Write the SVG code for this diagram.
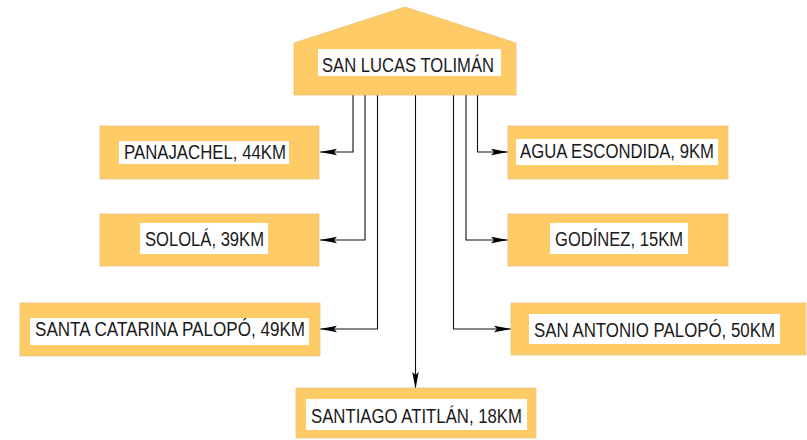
<svg xmlns="http://www.w3.org/2000/svg" width="807" height="440" viewBox="0 0 807 440">
<defs>
<style>
.box{fill:#FECB67;stroke:#E8C07A;stroke-width:0.8}
.lab{fill:#fff}
.t{font-family:"Liberation Sans",Arial,sans-serif;font-size:20px;fill:#1a1a1a}
.c{fill:none;stroke:#111;stroke-width:1.1}
</style>
<marker id="ah" markerUnits="userSpaceOnUse" markerWidth="18" markerHeight="8" refX="17" refY="4" orient="auto">
<path d="M0,0.8 L17,4 L0,7.2 L3,4 Z" fill="#000"/>
</marker>
</defs>
<rect width="807" height="440" fill="#fff"/>
<g id="connectors">
<polyline class="c" points="353,95 353,152 320,152" marker-end="url(#ah)"/>
<polyline class="c" points="365,95 365,240 320,240" marker-end="url(#ah)"/>
<polyline class="c" points="377.5,95 377.5,329 320,329" marker-end="url(#ah)"/>
<polyline class="c" points="415.5,95 415.5,389" marker-end="url(#ah)"/>
<polyline class="c" points="453.5,95 453.5,329 511,329" marker-end="url(#ah)"/>
<polyline class="c" points="466,95 466,240 508,240" marker-end="url(#ah)"/>
<polyline class="c" points="477.5,95 477.5,152 508,152" marker-end="url(#ah)"/>
</g>
<g id="n-san-lucas">
<polygon class="box" points="294,43 405,7 516,43 516,95 294,95"/>
<rect class="lab" x="318" y="49" width="183" height="27"/>
<text class="t" x="322" y="72" textLength="172" lengthAdjust="spacingAndGlyphs">SAN LUCAS TOLIMÁN</text>
</g>
<g id="n-panajachel">
<rect class="box" x="100" y="126" width="219" height="53"/>
<rect class="lab" x="119" y="141" width="170" height="23"/>
<text class="t" x="124" y="158.5" textLength="162" lengthAdjust="spacingAndGlyphs">PANAJACHEL, 44KM</text>
</g>
<g id="n-solola">
<rect class="box" x="100" y="214" width="219" height="52"/>
<rect class="lab" x="140" y="223" width="128" height="31"/>
<text class="t" x="145" y="246" textLength="119" lengthAdjust="spacingAndGlyphs">SOLOLÁ, 39KM</text>
</g>
<g id="n-santa-catarina">
<rect class="box" x="20" y="303" width="300" height="53"/>
<rect class="lab" x="30" y="318" width="279" height="27"/>
<text class="t" x="35" y="336" textLength="270" lengthAdjust="spacingAndGlyphs">SANTA CATARINA PALOPÓ, 49KM</text>
</g>
<g id="n-santiago">
<rect class="box" x="296" y="388" width="240" height="50"/>
<rect class="lab" x="306" y="399" width="221" height="31"/>
<text class="t" x="311" y="423" textLength="211" lengthAdjust="spacingAndGlyphs">SANTIAGO ATITLÁN, 18KM</text>
</g>
<g id="n-agua-escondida">
<rect class="box" x="508" y="126" width="220" height="53"/>
<rect class="lab" x="516" y="139" width="202" height="26"/>
<text class="t" x="520" y="158" textLength="194" lengthAdjust="spacingAndGlyphs">AGUA ESCONDIDA, 9KM</text>
</g>
<g id="n-godinez">
<rect class="box" x="508" y="214" width="220" height="52"/>
<rect class="lab" x="550" y="223" width="138" height="31"/>
<text class="t" x="555" y="246" textLength="128" lengthAdjust="spacingAndGlyphs">GODÍNEZ, 15KM</text>
</g>
<g id="n-san-antonio">
<rect class="box" x="511" y="303" width="295" height="52"/>
<rect class="lab" x="529" y="314" width="251" height="30"/>
<text class="t" x="534" y="337" textLength="241" lengthAdjust="spacingAndGlyphs">SAN ANTONIO PALOPÓ, 50KM</text>
</g>
</svg>
